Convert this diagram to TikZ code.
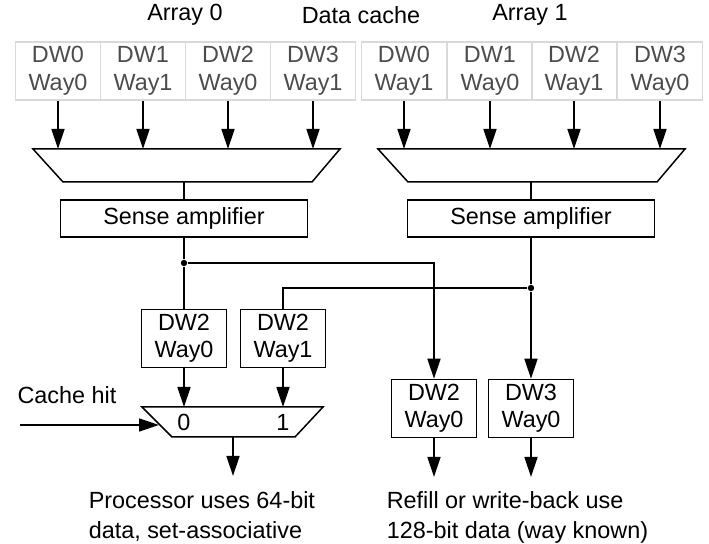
\documentclass[tikz,border=0pt]{standalone}
\usepackage{fontspec}
\setmainfont{Liberation Sans}
\usetikzlibrary{arrows.meta}
\tikzset{
  >={Triangle[length=10pt,width=6.5pt]},
  lbl/.style={font=\fontsize{11.7}{14}\selectfont},
  cell/.style={lbl,draw=black!15,text=black!70,minimum width=42.5pt,minimum height=29pt,inner sep=0pt,align=center},
  wordbox/.style={lbl,draw,minimum width=42.5pt,minimum height=29pt,inner sep=0pt,align=center,font=\fontsize{11.7}{13.5}\selectfont},
  amp/.style={lbl,draw,minimum width=123.5pt,minimum height=18.5pt,inner sep=0pt},
  dot/.style={circle,fill,inner sep=0pt,minimum size=3.2pt},
  note/.style={lbl,anchor=north west,align=left,inner sep=0pt,font=\fontsize{11.7}{15}\selectfont}
}
\begin{document}
\begin{tikzpicture}[x=0.5pt,y=-0.5pt,line width=0.75pt]
\useasboundingbox (0,0) rectangle (709,544);
\node[lbl] (arr0) at (185,15) {Array 0};
\node[lbl] (dcache) at (361,15) {Data cache};
\node[lbl] (arr1) at (530,15) {Array 1};
\foreach \x/\d/\w [count=\i] in {58/0/0,143/1/1,228/2/0,313/3/1} {
  \node[cell] (a0c\i) at (\x,71) {DW\d\\Way\w};
  \coordinate (a0in\i) at (\x,149);
  \draw[->] (a0c\i.south) -- (a0in\i);
}
\foreach \x/\d/\w [count=\i] in {404/0/1,490/1/0,574/2/1,660/3/0} {
  \node[cell] (a1c\i) at (\x,71) {DW\d\\Way\w};
  \coordinate (a1in\i) at (\x,149);
  \draw[->] (a1c\i.south) -- (a1in\i);
}
\draw (33,149) -- (340,149) -- (312,182) -- (63,182) -- cycle;
\draw (378,149) -- (685,149) -- (657,182) -- (408,182) -- cycle;
\coordinate (mux0out) at (184,182);
\coordinate (mux1out) at (531,182);
\node[amp] (amp0) at (184,218.5) {Sense amplifier};
\node[amp] (amp1) at (531,218.5) {Sense amplifier};
\draw (mux0out) -- (amp0.north);
\draw (mux1out) -- (amp1.north);
\node[wordbox] (lw0) at (184,338.5) {DW2\\Way0};
\node[wordbox] (lw1) at (283,338.5) {DW2\\Way1};
\node[wordbox] (rw0) at (434,408.5) {DW2\\Way0};
\node[wordbox] (rw1) at (531,408.5) {DW3\\Way0};
\node[dot] (j0) at (184,263) {};
\node[dot] (j1) at (531,288) {};
\draw (amp0.south) -- (j0) -- (lw0.north);
\draw[->] (j0) -| (rw0.north);
\draw[->] (amp1.south) -- (j1) -- (rw1.north);
\draw (j1) -| (lw1.north);
\draw (142,407) -- (323,407) -- (295,437) -- (172,437) -- cycle;
\node[lbl] (sel0) at (184,422) {0};
\node[lbl] (sel1) at (283,422) {1};
\coordinate (m2in0) at (184,407);
\coordinate (m2in1) at (283,407);
\draw[->] (lw0.south) -- (m2in0);
\draw[->] (lw1.south) -- (m2in1);
\node[lbl] (hit) at (67,395) {Cache hit};
\coordinate (hitin) at (20,425);
\coordinate (m2sel) at (159,425);
\draw[->] (hitin) -- (m2sel);
\coordinate (m2out) at (233,437);
\node[note] (proc) at (88,491) {Processor uses 64-bit\\data, set-associative};
\draw[->,shorten >=7.5pt] (m2out) -- (m2out |- proc.north);
\node[note] (refill) at (386,491) {Refill or write-back use\\128-bit data (way known)};
\draw[->,shorten >=7pt] (rw0.south) -- (rw0.south |- refill.north);
\draw[->,shorten >=7pt] (rw1.south) -- (rw1.south |- refill.north);
\end{tikzpicture}
\end{document}
